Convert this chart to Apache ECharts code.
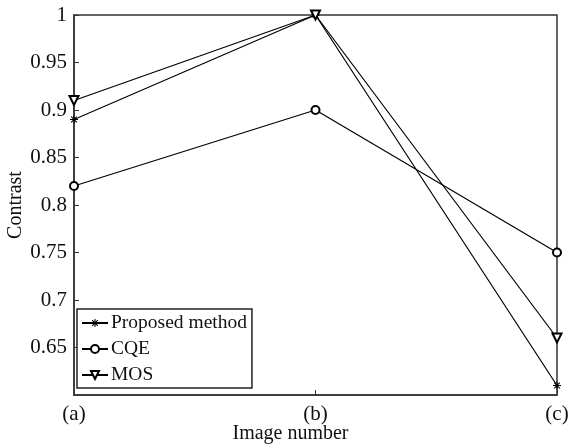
<!DOCTYPE html>
<html><head><meta charset="utf-8">
<script src="https://cdn.jsdelivr.net/npm/echarts@6/dist/echarts.min.js"></script>
<style>html,body{margin:0;padding:0;background:#fff}#c{width:569px;height:448px}</style>
</head><body><div id="c"></div>
<script>
var categories = ['(a)', '(b)', '(c)'];
var proposed = [0.89, 1.0, 0.61];
var cqe = [0.82, 0.90, 0.75];
var mos = [0.91, 1.0, 0.66];
var seriesNames = ['Proposed method', 'CQE', 'MOS'];

function asteriskPath() {
  var w = 0.13, parts = [];
  [0, 45, 90, 135].forEach(function (deg) {
    var a = deg * Math.PI / 180, c = Math.cos(a), s = Math.sin(a);
    var pts = [[-1, -w], [1, -w], [1, w], [-1, w]].map(function (p) {
      return [(p[0] * c - p[1] * s + 1) * 50, (p[0] * s + p[1] * c + 1) * 50];
    });
    parts.push('M' + pts.map(function (p) { return p[0].toFixed(2) + ' ' + p[1].toFixed(2); }).join(' L') + ' Z');
  });
  return 'path://' + parts.join(' ');
}

var font = 'Liberation Serif';
var chart = echarts.init(document.getElementById('c'));
var lineStyle = { color: '#000', width: 1.2 };
chart.setOption({
  animation: false,
  textStyle: { fontFamily: font },
  grid: { left: 74, right: 12, top: 15, bottom: 53, containLabel: false, outerBoundsMode: 'none',
    show: true, borderColor: '#333', borderWidth: 1.5 },
  xAxis: {
    type: 'category', data: categories, boundaryGap: false,
    axisLine: { lineStyle: { color: '#333', width: 1.5 } },
    axisTick: { inside: true, length: 5, lineStyle: { color: '#333' } },
    axisLabel: { color: '#111', fontFamily: font, fontSize: 21, margin: 9 },
    name: 'Image number', nameLocation: 'middle', nameGap: 29, nameMoveOverlap: false,
    nameTextStyle: { color: '#111', fontFamily: font, fontSize: 20, padding: [0, 50, 0, 0] }
  },
  yAxis: {
    type: 'value', min: 0.6, max: 1.0, interval: 0.05,
    axisLine: { show: true, lineStyle: { color: '#333', width: 1.5 } },
    axisTick: { show: true, inside: true, length: 5, lineStyle: { color: '#333' } },
    splitLine: { show: false },
    axisLabel: { color: '#111', fontFamily: font, fontSize: 21, margin: 7, showMinLabel: false,
      formatter: function (v) { return String(Math.round(v * 100) / 100); } },
    name: 'Contrast', nameLocation: 'middle', nameGap: 48, nameMoveOverlap: false,
    nameTextStyle: { color: '#111', fontFamily: font, fontSize: 20 }
  },
  legend: {
    orient: 'vertical', left: 77, top: 309,
    backgroundColor: '#fff', borderColor: '#222', borderWidth: 1.5, borderRadius: 0,
    padding: [4, 5, 3, 4], itemGap: 6, itemWidth: 26, itemHeight: 10,
    textStyle: { color: '#111', fontFamily: font, fontSize: 19.5, lineHeight: 20, padding: [0, 0, 0, -2] },
    data: seriesNames
  },
  series: [
    { name: seriesNames[0], type: 'line', data: proposed, symbol: asteriskPath(), symbolSize: 8,
      lineStyle: lineStyle, itemStyle: { color: '#000' } },
    { name: seriesNames[1], type: 'line', data: cqe, symbol: 'emptyCircle', symbolSize: 8,
      lineStyle: lineStyle, itemStyle: { color: '#000', borderWidth: 1 } },
    { name: seriesNames[2], type: 'line', data: mos, symbol: 'emptyTriangle', symbolRotate: 180, symbolSize: 9,
      lineStyle: lineStyle, itemStyle: { color: '#000', borderWidth: 1 } }
  ]
});
</script></body></html>
